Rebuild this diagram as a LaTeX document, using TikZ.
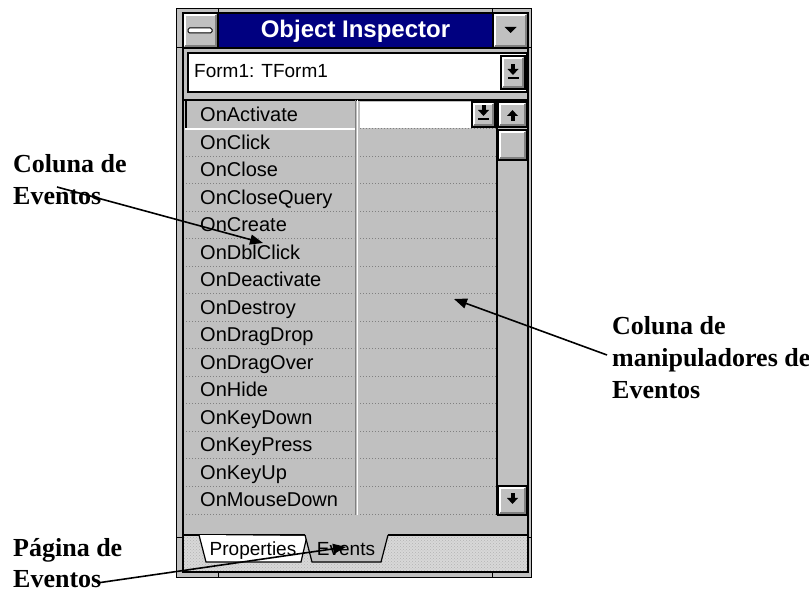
\documentclass[tikz,border=0pt]{standalone}
\usepackage{fontspec}
\setmainfont{Liberation Serif}
\setsansfont{Liberation Sans}
\usetikzlibrary{arrows.meta,patterns}
\definecolor{wgray}{HTML}{C0C0C0}
\definecolor{wdark}{HTML}{808080}
\definecolor{wblue}{HTML}{000080}
\definecolor{whatch}{HTML}{D8D8D8}
\newcommand\winbtn[4]{%
  \fill[wgray] (#1,#2) rectangle (#3,#4);
  \draw[white,line width=2pt] (#1+2,#4-2) -- (#1+2,#2+2) -- (#3-2,#2+2);
  \draw[wdark,line width=2pt] (#1+2,#4-2) -- (#3-2,#4-2) -- (#3-2,#2+2);
  \draw[black,line width=1.2pt] (#1,#2) rectangle (#3,#4);
}
\newcommand\icondown[2]{%
  \fill[black] (#1-5.5,#2-1) -- (#1+5.5,#2-1) -- (#1,#2+5) -- cycle;
  \fill[black] (#1-2,#2-6) rectangle (#1+2,#2-0.5);
}
\newcommand\iconup[2]{%
  \fill[black] (#1-5.5,#2+1) -- (#1+5.5,#2+1) -- (#1,#2-5) -- cycle;
  \fill[black] (#1-2,#2+6) rectangle (#1+2,#2+0.5);
}
\newcommand\icondrop[2]{%
  \icondown{#1}{#2}
  \fill[black] (#1-5.5,#2+7.5) rectangle (#1+5.5,#2+9);
}
\tikzset{
  anno/.style={anchor=base west, inner sep=0pt, font=\bfseries\fontsize{26}{32}\selectfont},
  gridtxt/.style={anchor=base west, inner sep=0pt, font=\sffamily\fontsize{20}{20}\selectfont},
  tabtxt/.style={anchor=base, inner sep=0pt, font=\sffamily\fontsize{19}{19}\selectfont},
  pointer/.style={black, line width=1.6pt, -{Triangle[length=13pt,width=10pt]}},
  sep/.style={wdark, line width=1pt, dotted},
}
\begin{document}
\begin{tikzpicture}[x=1pt,y=-1pt]
\useasboundingbox[fill=white] (0,0) rectangle (809,593);
% window frame
\fill[wgray] (176,8) rectangle (532,578);
\draw[black,line width=1pt] (176.5,8.5) rectangle (531.5,577.5);
\foreach \xx in {218,492} {
  \draw[black,line width=1pt] (\xx,8) -- (\xx,13);
  \draw[black,line width=1pt] (\xx,572) -- (\xx,578);
}
\foreach \yy in {48,537} {
  \draw[black,line width=1pt] (176,\yy) -- (183,\yy);
  \draw[black,line width=1pt] (528,\yy) -- (532,\yy);
}
% title bar
\fill[wblue] (218,13) rectangle (493,48);
\winbtn{183}{13}{218}{48}
\draw[black,line width=1pt,fill=white,rounded corners=1.5pt] (188,28) rectangle (212,33);
\winbtn{493}{13}{528}{48}
\fill[black] (504.5,27) -- (516.5,27) -- (510.5,33) -- cycle;
\node[font=\sffamily\bfseries\fontsize{24}{24}\selectfont, text=white, inner sep=0pt] (title) at (355.5,31) {Object Inspector};
\draw[black,line width=1.2pt] (183,48) -- (528,48);
% combo box
\draw[black,line width=1.5pt,fill=white] (188,53) rectangle (527,92);
\node[anchor=base west, inner sep=0pt, font=\sffamily\fontsize{19}{19}\selectfont] (form) at (194,78) {Form1: TForm1};
\winbtn{501}{56}{525}{89}
\icondrop{513}{70}
% grid
\draw[black,line width=1.2pt] (183,100) -- (528,100);
\fill[white] (360,102) rectangle (472,128);
\winbtn{472}{102}{495}{127}
\icondrop{483.5}{111}
\foreach \name [count=\i from 0] in {OnActivate,OnClick,OnClose,OnCloseQuery,OnCreate,OnDblClick,OnDeactivate,OnDestroy,OnDragDrop,OnDragOver,OnHide,OnKeyDown,OnKeyPress,OnKeyUp,OnMouseDown}
  \node[gridtxt] (ev\i) at (200,122+27.5*\i) {\name};
\foreach \k in {2,...,15} {
  \draw[sep] (186,101.5+27.5*\k) -- (354,101.5+27.5*\k);
  \draw[sep] (360,101.5+27.5*\k) -- (496,101.5+27.5*\k);
}
\draw[sep] (360,129) -- (496,129);
\draw[white,line width=1.5pt] (185,129) -- (356,129);
\draw[black,line width=2.5pt] (186,101) -- (186,128);
\draw[wdark,line width=1pt] (355,100) -- (355,515);
\draw[white,line width=1.5pt] (357.5,100) -- (357.5,515);
% scrollbar
\draw[black,line width=1.2pt] (497,100) -- (497,515);
\winbtn{498}{102}{527}{127}
\iconup{512.5}{115}
\winbtn{498}{130}{527}{160}
\winbtn{498}{486}{527}{515}
\icondown{512.5}{499}
% tab strip
\fill[whatch] (184,535) rectangle (527,572);
\fill[pattern=crosshatch dots, pattern color=wdark!60] (184,535) rectangle (527,572);
\draw[black,line width=1.2pt] (183,535) -- (306,535);
\draw[black,line width=1.2pt] (388,535) -- (528,535);
\draw[black,line width=1.2pt,fill=white] (199,535) -- (206,562) -- (301,562) -- (307,536);
\fill[wgray] (305,534) -- (312,562) -- (381,562) -- (388,534) -- cycle;
\draw[black,line width=1.2pt] (305,535) -- (312,562) -- (381,562) -- (388,535);
\node[tabtxt] (tprop) at (253,555) {Properties};
\node[tabtxt] (tev) at (346,555) {Events};
% inner border
\draw[black,line width=1.2pt] (183,13) rectangle (528,572);
% annotations
\node[anno] (a1) at (13,173) {Coluna de};
\node[anno] (a2) at (13,205) {Eventos};
\node[anno] (b1) at (612,335) {Coluna de};
\node[anno] (b2) at (612,367) {manipuladores de};
\node[anno] (b3) at (612,399) {Eventos};
\node[anno] (c1) at (13,556) {Página de};
\node[anno] (c2) at (13,587) {Eventos};
\coordinate (s1) at (57,187);
\coordinate (t1) at (263,243);
\coordinate (s2) at (607,355);
\coordinate (t2) at (454,299);
\coordinate (s3) at (97,583);
\coordinate (t3) at (346,547);
\draw[pointer] (s1) -- (t1);
\draw[pointer] (s2) -- (t2);
\draw[pointer] (s3) -- (t3);
\end{tikzpicture}
\end{document}
